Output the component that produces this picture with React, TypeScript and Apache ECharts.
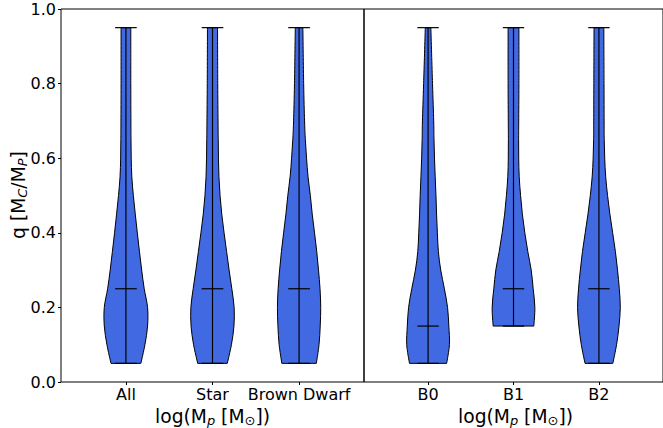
import React, { useEffect, useRef } from "react";
import * as echarts from "echarts";

// Mass-ratio levels at which the violin densities are sampled
const qLevels = [0.05, 0.1, 0.15, 0.2, 0.25, 0.3, 0.35, 0.4, 0.45, 0.5, 0.55, 0.6, 0.65, 0.7, 0.8, 0.95];

// Relative kernel-density estimates (scaled per violin so that the widest point = 1)
const densityAll = [14.7, 18.7, 21.3, 21.3, 18.0, 15.5, 13.3, 11.2, 9.2, 7.3, 5.8, 5.2, 5.0, 4.9, 4.8, 4.8];
const densityStar = [14.7, 18.8, 21.3, 21.5, 19.2, 16.5, 14.0, 11.5, 9.2, 7.5, 6.4, 5.9, 5.7, 5.5, 5.2, 5.0];
const densityBrownDwarf = [17.3, 20.0, 21.2, 21.7, 21.0, 19.5, 17.7, 15.5, 13.2, 11.3, 9.0, 7.5, 6.3, 5.5, 4.6, 3.8];
const densityB0 = [18.8, 21.6, 21.0, 19.7, 16.5, 12.8, 10.4, 9.4, 8.6, 8.0, 7.2, 6.5, 6.0, 5.7, 4.5, 2.8];
const densityB1 = [null, null, 20.7, 21.7, 20.0, 18.0, 14.5, 11.5, 9.0, 7.2, 5.8, 5.3, 5.2, 5.3, 5.5, 5.5];
const densityB2 = [14.2, 18.0, 20.5, 21.8, 20.8, 19.0, 16.8, 14.0, 11.2, 8.8, 6.9, 5.9, 5.4, 5.3, 5.2, 5.0];

// Categories and summary statistics
const leftCategories = ["All", "Star", "Brown Dwarf"];
const rightCategories = ["B0", "B1", "B2"];
const leftMins = [0.05, 0.05, 0.05];
const leftMedians = [0.25, 0.25, 0.25];
const leftMaxs = [0.95, 0.95, 0.95];
const rightMins = [0.05, 0.15, 0.05];
const rightMedians = [0.15, 0.25, 0.25];
const rightMaxs = [0.95, 0.95, 0.95];

const yTicks = [0, 0.2, 0.4, 0.6, 0.8, 1.0];

const FONT = "DejaVu Sans";
const BODY_COLOR = "#4169E1";
const VIOLIN_WIDTH = 0.5;

type Violin = { density: (number | null)[]; min: number; median: number; max: number };

const leftViolins: Violin[] = [densityAll, densityStar, densityBrownDwarf].map((d, i) => ({
  density: d,
  min: leftMins[i],
  median: leftMedians[i],
  max: leftMaxs[i],
}));
const rightViolins: Violin[] = [densityB0, densityB1, densityB2].map((d, i) => ({
  density: d,
  min: rightMins[i],
  median: rightMedians[i],
  max: rightMaxs[i],
}));

const lineStyle = { stroke: "#000", lineWidth: 1.2 };

// Smooth curve through pixel points (Catmull-Rom segments written as cubic Béziers)
function curveThrough(pts: number[][]): string {
  let d = "";
  for (let i = 0; i < pts.length - 1; i++) {
    const p0 = pts[Math.max(0, i - 1)];
    const p1 = pts[i];
    const p2 = pts[i + 1];
    const p3 = pts[Math.min(pts.length - 1, i + 2)];
    const c1x = p1[0] + (p2[0] - p0[0]) / 6;
    const c1y = p1[1] + (p2[1] - p0[1]) / 6;
    const c2x = p2[0] - (p3[0] - p1[0]) / 6;
    const c2y = p2[1] - (p3[1] - p1[1]) / 6;
    d += ` C ${c1x} ${c1y} ${c2x} ${c2y} ${p2[0]} ${p2[1]}`;
  }
  return d;
}

function makeRenderItem(violins: Violin[]) {
  return (params: any, api: any) => {
    const v = violins[params.dataIndex];
    const pos = api.value(0) as number;
    const valid = v.density.filter((d) => d != null) as number[];
    const peak = Math.max(...valid);
    const half = VIOLIN_WIDTH / 2;
    const leftSide: number[][] = [];
    const rightSide: number[][] = [];
    qLevels.forEach((q, k) => {
      const d = v.density[k];
      if (d == null || q < v.min - 1e-9 || q > v.max + 1e-9) return;
      const hw = (half * d) / peak;
      leftSide.push(api.coord([pos - hw, q]));
      rightSide.push(api.coord([pos + hw, q]));
    });
    const rightDown = rightSide.slice().reverse();
    const pathData =
      `M ${leftSide[0][0]} ${leftSide[0][1]}` +
      curveThrough(leftSide) +
      ` L ${rightDown[0][0]} ${rightDown[0][1]}` +
      curveThrough(rightDown) +
      " Z";

    const capHalf = VIOLIN_WIDTH / 4;
    const hline = (q: number) => {
      const a = api.coord([pos - capHalf, q]);
      const b = api.coord([pos + capHalf, q]);
      return { type: "line", shape: { x1: a[0], y1: a[1], x2: b[0], y2: b[1] }, style: lineStyle };
    };
    const top = api.coord([pos, v.max]);
    const bottom = api.coord([pos, v.min]);
    return {
      type: "group",
      children: [
        {
          type: "path",
          shape: { pathData },
          style: { fill: BODY_COLOR, stroke: "#000", lineWidth: 1 },
        },
        { type: "line", shape: { x1: top[0], y1: top[1], x2: bottom[0], y2: bottom[1] }, style: lineStyle },
        hline(v.max),
        hline(v.min),
        hline(v.median),
      ],
    };
  };
}

function xAxisFor(gridIndex: number, names: string[]) {
  return {
    type: "value",
    gridIndex,
    min: 0.25,
    max: 3.75,
    axisLine: { show: false },
    splitLine: { show: false },
    axisTick: { show: true, customValues: [1, 2, 3], length: 3, lineStyle: { color: "#000", width: 1 } },
    axisLabel: {
      show: true,
      customValues: [1, 2, 3],
      formatter: (val: number) => names[Math.round(val) - 1] ?? "",
      fontFamily: FONT,
      fontSize: 16,
      color: "#000",
      margin: 4,
    },
  };
}

const richTitle = {
  n: { fontFamily: FONT, fontSize: 18.7, color: "#000", lineHeight: 22 },
  s: { fontFamily: FONT, fontSize: 13, fontStyle: "italic", color: "#000", lineHeight: 13, verticalAlign: "bottom" },
  o: { fontFamily: FONT, fontSize: 13, color: "#000", lineHeight: 13, verticalAlign: "bottom" },
};

export default function App() {
  const ref = useRef<HTMLDivElement>(null);

  useEffect(() => {
    if (!ref.current) return;
    const chart = echarts.init(ref.current, undefined, { renderer: "svg" });
    chart.setOption({
      animation: false,
      backgroundColor: "#fff",
      grid: [
        { left: 61, top: 9, width: 303, height: 373, show: true, borderColor: "#000", borderWidth: 1 },
        { left: 364, top: 9, width: 303, height: 373, show: true, borderColor: "#000", borderWidth: 1 },
      ],
      xAxis: [xAxisFor(0, leftCategories), xAxisFor(1, rightCategories)],
      yAxis: [
        {
          type: "value",
          gridIndex: 0,
          min: 0,
          max: 1,
          interval: 0.2,
          axisLine: { show: false },
          splitLine: { show: false },
          axisTick: { show: true, length: 3, lineStyle: { color: "#000", width: 1 } },
          axisLabel: {
            formatter: (val: number) => (yTicks.some((t) => Math.abs(t - val) < 1e-9) ? val.toFixed(1) : ""),
            fontFamily: FONT,
            fontSize: 16,
            color: "#000",
            margin: 5,
          },
        },
        {
          type: "value",
          gridIndex: 1,
          min: 0,
          max: 1,
          interval: 0.2,
          axisLine: { show: false },
          splitLine: { show: false },
          axisTick: { show: false },
          axisLabel: { show: false },
        },
      ],
      series: [
        {
          type: "custom",
          xAxisIndex: 0,
          yAxisIndex: 0,
          renderItem: makeRenderItem(leftViolins),
          data: leftViolins.map((v, i) => [i + 1, v.median]),
        },
        {
          type: "custom",
          xAxisIndex: 1,
          yAxisIndex: 1,
          renderItem: makeRenderItem(rightViolins),
          data: rightViolins.map((v, i) => [i + 1, v.median]),
        },
      ],
      graphic: [
        {
          type: "text",
          x: 18,
          y: 195,
          rotation: Math.PI / 2,
          style: {
            text: "{n|q [M}{s|C}{n|/M}{s|P}{n|]}",
            rich: richTitle,
            align: "center",
            verticalAlign: "middle",
          },
        },
        {
          type: "text",
          x: 212.5,
          y: 416,
          style: {
            text: "{n|log(M}{s|p}{n| [M}{o|⊙}{n|])}",
            rich: richTitle,
            align: "center",
            verticalAlign: "middle",
          },
        },
        {
          type: "text",
          x: 515.5,
          y: 416,
          style: {
            text: "{n|log(M}{s|p}{n| [M}{o|⊙}{n|])}",
            rich: richTitle,
            align: "center",
            verticalAlign: "middle",
          },
        },
      ],
    });
    return () => chart.dispose();
  }, []);

  return (
    <div
      ref={ref}
      style={{ position: "fixed", left: 0, top: 0, width: 663, height: 428, background: "#fff" }}
    />
  );
}
